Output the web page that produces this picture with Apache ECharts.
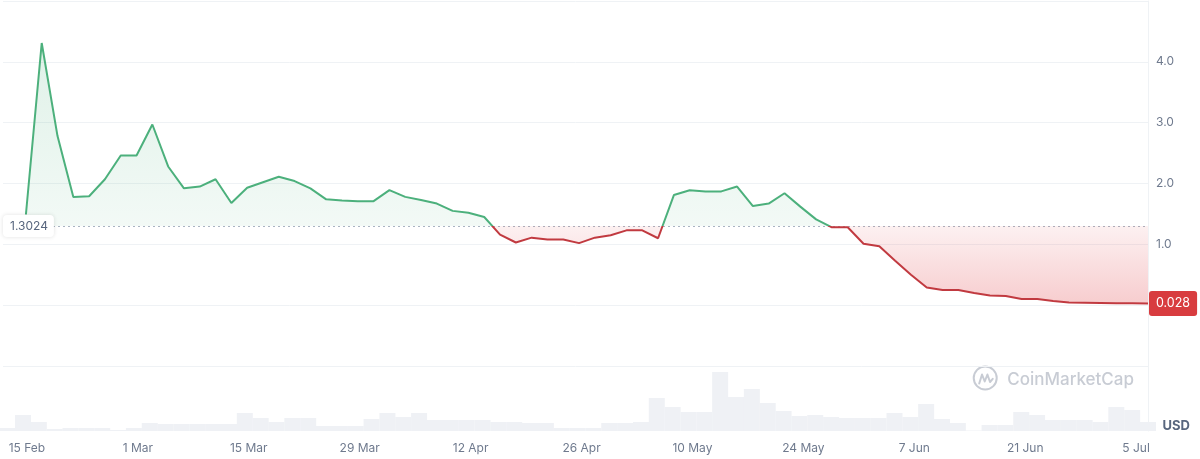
<!DOCTYPE html>
<html><head><meta charset="utf-8">
<script src="https://cdn.jsdelivr.net/npm/echarts@6/dist/echarts.min.js"></script>
<style>html,body{margin:0;padding:0;background:#fff}#c{width:1200px;height:459px}</style>
</head><body><div id="c"></div>
<script>
const DAY = 86400000;
const stepDays = 2;
// first volume bar one step before the first price point
const firstVolumeTime = Date.UTC(2023, 1, 12, 12);

const priceValues = [
  1.49, 4.31, 2.78, 1.78, 1.79, 2.07, 2.46, 2.46, 2.97, 2.28,
  1.92, 1.95, 2.07, 1.68, 1.93, 2.02, 2.11, 2.04, 1.92, 1.74,
  1.72, 1.71, 1.71, 1.89, 1.78, 1.73, 1.67, 1.55, 1.52, 1.45,
  1.16, 1.03, 1.11, 1.08, 1.08, 1.02, 1.11, 1.15, 1.23, 1.23,
  1.10, 1.81, 1.89, 1.87, 1.87, 1.95, 1.63, 1.67, 1.84, 1.62,
  1.41, 1.28, 1.28, 1.01, 0.97, 0.73, 0.50, 0.29, 0.25, 0.25,
  0.20, 0.16, 0.15, 0.10, 0.10, 0.07, 0.045, 0.04, 0.035, 0.03,
  0.03, 0.028
];
const volumeValues = [
  3, 16, 9, 2, 3, 3, 3, 1, 3, 8, 7, 7, 7, 7, 7, 18, 13, 9, 13, 13,
  5, 5, 5, 12, 18, 14, 18, 11, 11, 11, 11, 9, 9, 8, 8, 3, 3, 3, 8, 8,
  9, 33, 24, 19, 19, 59, 34, 42, 28, 20, 15, 16, 14, 13, 13, 13, 18, 14, 27, 12,
  8, 0.5, 6, 6, 19, 16, 11, 11, 11, 9, 24, 21, 9
];
const baselinePrice = 1.3024;
const lastPriceLabel = '0.028';
const xTickDates = [
  [2023,1,15],[2023,2,1],[2023,2,15],[2023,2,29],[2023,3,12],[2023,3,26],
  [2023,4,10],[2023,4,24],[2023,5,7],[2023,5,21],[2023,6,5]
];
const yTickLabels = [1, 2, 3, 4];
const monthNames = ['Jan','Feb','Mar','Apr','May','Jun','Jul','Aug','Sep','Oct','Nov','Dec'];

const volumeTimes = volumeValues.map((_, i) => firstVolumeTime + i * stepDays * DAY);
const priceTimes = volumeTimes.slice(1);
const priceData = priceValues.map((v, i) => [priceTimes[i], v]);
const volumeData = volumeValues.map((v, i) => [volumeTimes[i], v]);
const xTicks = xTickDates.map(d => Date.UTC(d[0], d[1], d[2]));

const xMin = priceTimes[0] - 2.9 * DAY;
const xMax = priceTimes[priceTimes.length - 1];

const GREEN = '#4cb07c';
const RED = '#c13a40';
const FONT = 'Inter, "Noto Sans", sans-serif';
const GRIDLINE = '#eff2f5';

// price grid layout
const PRICE_TOP = 1, PRICE_H = 365, Y_MIN = -1, Y_MAX = 5;
const yPix = v => PRICE_TOP + (Y_MAX - v) / (Y_MAX - Y_MIN) * PRICE_H;
const yTop = yPix(Y_MAX), yBase = yPix(baselinePrice), yZero = yPix(0);
const b = (yBase - yTop) / (yZero - yTop);

const chart = echarts.init(document.getElementById('c'), null, {renderer: 'canvas'});

const fmtDate = v => { const d = new Date(v); return d.getUTCDate() + ' ' + monthNames[d.getUTCMonth()]; };

const option = {
  animation: false,
  backgroundColor: '#fff',
  grid: [
    {left: 0, right: 52, top: PRICE_TOP, height: PRICE_H},
    {left: 0, right: 52, top: PRICE_TOP + PRICE_H, height: 65}
  ],
  xAxis: [
    {type: 'value', gridIndex: 0, min: xMin, max: xMax, show: false, splitLine: {show: false}},
    {type: 'value', gridIndex: 1, min: xMin, max: xMax,
      axisLine: {show: false}, axisTick: {show: false}, splitLine: {show: false},
      axisLabel: {customValues: xTicks, formatter: fmtDate, color: '#6f7a8e', fontSize: 12,
        fontFamily: FONT, margin: 11}}
  ],
  yAxis: [
    {type: 'value', gridIndex: 0, position: 'right', min: Y_MIN, max: Y_MAX, interval: 1,
      axisLine: {show: true, lineStyle: {color: GRIDLINE}}, axisTick: {show: false},
      splitLine: {show: true, lineStyle: {color: GRIDLINE, width: 1}},
      axisLabel: {color: '#6f7a8e', fontSize: 12, fontFamily: FONT, margin: 8,
        formatter: v => yTickLabels.indexOf(v) >= 0 ? v.toFixed(1) : ''}},
    {type: 'value', gridIndex: 0, position: 'left', min: Y_MIN, max: Y_MAX, z: 20,
      axisLine: {show: false}, axisTick: {show: false}, splitLine: {show: false},
      axisLabel: {inside: true, margin: 0, customValues: [baselinePrice],
        formatter: v => v.toFixed(4), color: '#58667e', fontSize: 12, fontFamily: FONT,
        backgroundColor: '#fff', padding: [5, 6, 5, 7], borderRadius: 4,
        shadowBlur: 4, shadowColor: 'rgba(0,0,0,0.12)'}},
    {type: 'value', gridIndex: 1, position: 'right', min: 0, max: 65,
      axisLine: {show: true, lineStyle: {color: GRIDLINE}}, axisTick: {show: false},
      splitLine: {show: false}, axisLabel: {show: false}}
  ],
  series: [
    {
      type: 'line', xAxisIndex: 0, yAxisIndex: 0, data: priceData,
      showSymbol: false, symbol: 'none', z: 5,
      lineStyle: {width: 2, color: {
        type: 'linear', x: 0, y: yTop, x2: 0, y2: yZero, global: true,
        colorStops: [
          {offset: 0, color: GREEN}, {offset: b, color: GREEN},
          {offset: b, color: RED}, {offset: 1, color: RED}
        ]}},
      areaStyle: {origin: baselinePrice, opacity: 1, color: {
        type: 'linear', x: 0, y: yTop, x2: 0, y2: yZero, global: true,
        colorStops: [
          {offset: 0, color: 'rgba(76,176,124,0.20)'},
          {offset: b, color: 'rgba(76,176,124,0.07)'},
          {offset: b, color: 'rgba(226,72,78,0.08)'},
          {offset: 1, color: 'rgba(226,72,78,0.28)'}
        ]}},
      endLabel: {show: true, formatter: lastPriceLabel, color: '#fff', fontSize: 12.5,
        fontFamily: FONT, backgroundColor: '#d83c3f', padding: [6, 7], borderRadius: 3, distance: 1},
      markLine: {
        silent: true, symbol: ['none', 'none'], label: {show: false},
        lineStyle: {type: [2, 3], color: '#a9b4c2', width: 1},
        data: [{yAxis: baselinePrice}]
      }
    },
    {
      type: 'bar', xAxisIndex: 1, yAxisIndex: 2, data: volumeData,
      barWidth: 16, itemStyle: {color: '#eff1f5'}, z: 1
    }
  ],
  graphic: [
    {type: 'group', right: 66, top: 364, silent: true, children: [
      {type: 'circle', shape: {cx: 12, cy: 12, r: 11.5}, style: {fill: 'none', stroke: '#c8ccd4', lineWidth: 2}},
      {type: 'polyline', shape: {points: [[6, 17.5], [8.8, 8.5], [11.5, 15.5], [14.2, 8.5], [16.8, 16], [19.5, 12.8]]},
        style: {fill: 'none', stroke: '#c8ccd4', lineWidth: 2, lineJoin: 'round', lineCap: 'round'}},
      {type: 'text', x: 34, y: 14, style: {text: 'CoinMarketCap', fill: '#c8ccd4', fontSize: 17,
        fontWeight: 500, fontFamily: FONT, verticalAlign: 'middle'}}
    ]},
    {type: 'text', right: 10, top: 420, style: {text: 'USD', fill: '#58667e', fontSize: 13,
      fontWeight: 'bold', fontFamily: FONT}}
  ]
};
chart.setOption(option);
</script>
</body></html>
